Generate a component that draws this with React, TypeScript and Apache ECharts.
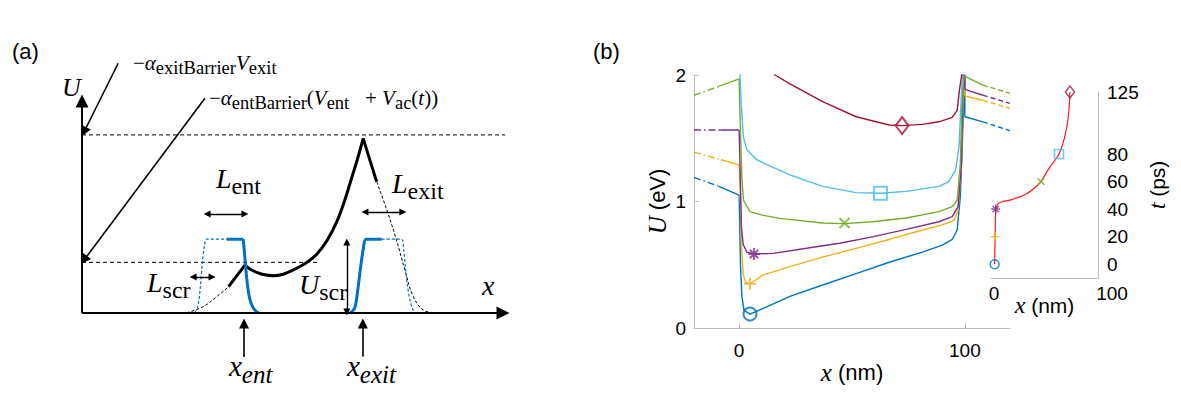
import React, { useEffect, useRef } from 'react';
import * as echarts from 'echarts';

const SERIF = '"Liberation Serif", "DejaVu Serif", serif';
const SANS = '"Liberation Sans", Arial, sans-serif';

// ---------- Panel (b): U(x) profiles at several times ----------
const C_BLUE = '#0072BD';
const C_ORANGE = '#EDB120';
const C_PURPLE = '#7E2F8E';
const C_GREEN = '#77AC30';
const C_CYAN = '#4DBEEE';
const C_RED = '#A2142F';

const blueLeftDash = [[-20, 1.19], [-9, 1.12]];
const blueLeftSolid = [[-9, 1.12], [0, 1.05]];
const blueWell = [[0, 1.05], [0.6, 0.5], [1.2, 0.25], [2.2, 0.14], [4.8, 0.11], [10.7, 0.155], [22.5, 0.25], [37, 0.34], [51.8, 0.43], [66.5, 0.52], [81.2, 0.6], [90, 0.655], [94.4, 0.7], [96.6, 0.775], [98, 1.04], [98.8, 1.43], [99.6, 1.83], [100, 2.0], [100, 1.67]];
const blueRightSolid = [[100, 1.67], [108, 1.63]];
const blueRightDash = [[108, 1.63], [120, 1.56]];

const orangeLeftDash = [[-20, 1.39], [-8, 1.33]];
const orangeLeftSolid = [[-8, 1.33], [0, 1.29]];
const orangeWell = [[0, 1.29], [0.6, 1.0], [1.2, 0.6], [1.8, 0.42], [3, 0.36], [4.8, 0.35], [10.7, 0.42], [22.5, 0.485], [37, 0.56], [51.8, 0.63], [66.5, 0.7], [81.2, 0.775], [90, 0.815], [95.2, 0.85], [97, 0.93], [98.5, 1.3], [99.2, 1.83], [99.8, 2.0], [100, 2.0], [100, 1.834]];
const orangeRightSolid = [[100, 1.834], [108, 1.8]];
const orangeRightDash = [[108, 1.8], [120, 1.737]];

const purpleLeftDash = [[-20, 1.565], [-8.4, 1.565]];
const purpleLeftSolid = [[-8.4, 1.565], [0, 1.565]];
const purpleWell = [[0, 1.565], [0.5, 1.2], [1, 0.8], [1.8, 0.66], [3.4, 0.6], [6.6, 0.585], [15, 0.59], [29.8, 0.63], [44.5, 0.67], [59, 0.72], [74, 0.78], [88.5, 0.84], [94.4, 0.88], [97, 0.96], [98.5, 1.3], [99, 1.83], [99.6, 2.0], [100, 2.0], [100, 1.887]];
const purpleRightSolid = [[100, 1.887], [108, 1.84]];
const purpleRightDash = [[108, 1.84], [120, 1.776]];

const greenLeftDash = [[-20, 1.84], [-9, 1.91]];
const greenLeftSolid = [[-9, 1.91], [0, 1.97]];
const greenWell = [[0, 1.97], [0.5, 1.6], [1.2, 1.2], [1.9, 1.01], [4.8, 0.92], [10.7, 0.89], [18, 0.867], [37, 0.83], [46.7, 0.825], [59, 0.84], [74, 0.87], [88.5, 0.92], [94.4, 0.96], [96.6, 1.01], [98, 1.3], [98.8, 1.83], [99.6, 1.99], [100, 1.99]];
const greenRightSolid = [[100, 1.99], [108, 1.92]];
const greenRightDash = [[108, 1.92], [120, 1.855]];

const cyanWell = [[0.3, 2.05], [0.8, 1.8], [1.9, 1.51], [3.4, 1.41], [7.8, 1.33], [15, 1.27], [22.5, 1.21], [37, 1.12], [51.8, 1.07], [62.6, 1.065], [74, 1.08], [88.5, 1.12], [92.9, 1.157], [95.9, 1.25], [97.4, 1.43], [98.1, 1.7], [98.8, 1.96], [99.2, 2.05]];

const redWell = [[12, 2.1], [15.9, 2.0], [22.5, 1.93], [37, 1.79], [51.8, 1.67], [66.5, 1.605], [72.2, 1.6], [81.2, 1.61], [88.5, 1.63], [94.4, 1.665], [96.6, 1.72], [97.6, 1.88], [98.5, 1.99], [99, 2.1]];

// marker positions (minimum of each profile)
const markerX = [4.8, 4.8, 6.6, 46.7, 62.6, 72.2];
const markerU = [0.11, 0.35, 0.585, 0.83, 1.065, 1.6];

// ---------- Inset: trajectory of minimum x(t) ----------
const trajectory = [[0.5, 0], [0.7, 10], [1, 20], [1.2, 30], [1.5, 38], [2.5, 42], [4, 44], [8, 45.5], [15.4, 46.5], [31, 51], [40, 56], [45, 60], [54, 70.8], [62.5, 80], [68, 92.6], [71.4, 107], [73, 125]];
const insetMarkerX = [0.5, 1, 1.5, 45, 62.5, 73];
const markerT = [0, 20, 40, 60, 80, 125];
const insetTLabels = [0, 20, 40, 60, 80, 125];

// ---------- Panel (a): schematic (abstract units) ----------
const schemTopDash = [[0, 84], [100.5, 84]];
const schemLowDash = [[0, 23.9], [56, 23.9]];
const blackLeftDash = [[24.9, 0.1], [28.8, 3.0], [32, 7.7], [34.8, 12.4]];
const blackRise = [[34.8, 12.4], [38.7, 22.6]];
const blackWell = [[38.7, 22.6], [40, 20.6], [41.5, 19.2], [43.4, 18.0], [45.4, 17.6], [47.8, 18.3], [50.2, 20.3], [53, 23.3], [55.7, 27.6], [58.2, 34.2], [60.5, 43], [62.3, 52.5], [63.9, 62.7], [65.4, 72.4], [66.8, 82.4]];
const blackFall = [[66.8, 82.4], [68.4, 72], [70, 61.9]];
const blackRightDash = [[70, 61.9], [72.4, 48.6], [74.7, 34.4], [76.7, 20.3], [78.7, 7.7], [81.1, 1.4], [84.2, 0]];
const blueLeftBumpDash = [[26.7, 0], [27.5, 3], [28.1, 12], [28.6, 24], [29.1, 32], [29.6, 34.8], [34.4, 34.8]];
const blueLeftBumpTop = [[34.4, 34.8], [38.3, 34.8]];
const blueLeftBumpFall = [[38.3, 34.8], [38.7, 26], [39.2, 15], [39.8, 7], [40.7, 2.2], [41.9, 0]];
const blueRightBumpRise = [[63.7, 0], [64.8, 2.5], [65.6, 12.4], [66.2, 22], [66.8, 30], [67.5, 34.8], [71.2, 34.8]];
const blueRightBumpDash = [[71.2, 34.8], [75.9, 34.8], [76.4, 30], [76.8, 22], [77.3, 13], [77.9, 6], [78.5, 2], [79.1, 0]];
const schemAxes = [[[0, 0], [100, 0]], [[0, 0], [0, 100]]];
const schemPointers = [[[8.6, 117.8], [0.5, 85.5]], [[29.2, 101.3], [0.5, 25]], [[38.5, -20.8], [38.5, -5]], [[66.7, -20.5], [66.7, -5]]];
const schemDouble = [[[29.7, 46.7], [38.7, 46.7]], [[67.2, 47.6], [76.2, 47.6]], [[26.4, 17], [30.9, 17]], [[62.9, 33.5], [62.9, 0.5]]];

const P_PLUS = 'path://M0,5L10,5M5,0L5,10';
const P_CROSS = 'path://M0,0L10,10M10,0L0,10';
const P_STAR = 'path://M0,5L10,5M5,0L5,10M1.5,1.5L8.5,8.5M8.5,1.5L1.5,8.5';

export default function App() {
  const ref = useRef<HTMLDivElement>(null);
  useEffect(() => {
    if (!ref.current) return;
    const chart = echarts.init(ref.current, null, { renderer: 'svg' });

    const ln = (data: number[][], color: string, width: number, type: any, xi: number, smooth: any = false, z = 2) => ({
      type: 'line', data, xAxisIndex: xi, yAxisIndex: xi, showSymbol: false, symbol: 'none', smooth,
      lineStyle: { color, width, type }, silent: true, z, clip: true,
    });

    const series: any[] = [];
    const profiles = [
      [C_BLUE, blueLeftDash, blueLeftSolid, blueWell, blueRightSolid, blueRightDash],
      [C_ORANGE, orangeLeftDash, orangeLeftSolid, orangeWell, orangeRightSolid, orangeRightDash],
      [C_PURPLE, purpleLeftDash, purpleLeftSolid, purpleWell, purpleRightSolid, purpleRightDash],
      [C_GREEN, greenLeftDash, greenLeftSolid, greenWell, greenRightSolid, greenRightDash],
    ] as any[];
    const DASHDOT = [7, 3, 1.5, 3];
    const DASH = [5, 3];
    profiles.forEach(([c, ld, ls, w, rs, rd]) => {
      series.push(ln(ld, c, 1.4, DASHDOT, 0));
      series.push(ln(ls, c, 1.4, 'solid', 0));
      series.push(ln(w, c, 1.4, 'solid', 0));
      series.push(ln(rs, c, 1.4, 'solid', 0));
      series.push(ln(rd, c, 1.4, DASH, 0));
    });
    series.push(ln(cyanWell, C_CYAN, 1.4, 'solid', 0));
    series.push(ln(redWell, C_RED, 1.4, 'solid', 0));

    const markerDefs = [
      { sym: 'circle', c: C_BLUE, s: 13, si: 9 },
      { sym: P_PLUS, c: C_ORANGE, s: 12, si: 9 },
      { sym: P_STAR, c: C_PURPLE, s: 12, si: 9 },
      { sym: P_CROSS, c: C_GREEN, s: 10, si: 7 },
      { sym: 'rect', c: C_CYAN, s: 13, si: 9 },
      { sym: 'diamond', c: C_RED, s: [13, 17], si: [9, 12] },
    ];
    series.push(ln(trajectory, '#FF1A1A', 1.2, 'solid', 1, 0.3));
    markerDefs.forEach((m, i) => {
      series.push({
        type: 'scatter', xAxisIndex: 0, yAxisIndex: 0, data: [[markerX[i], markerU[i]]],
        symbol: m.sym, symbolSize: m.s, silent: true, z: 5,
        itemStyle: { color: 'rgba(0,0,0,0)', borderColor: m.c, borderWidth: 2 },
      });
      series.push({
        type: 'scatter', xAxisIndex: 1, yAxisIndex: 1, data: [[insetMarkerX[i], markerT[i]]],
        symbol: m.sym, symbolSize: m.si, silent: true, z: 5,
        itemStyle: { color: 'rgba(0,0,0,0)', borderColor: m.c, borderWidth: 1.5 },
      });
    });

    // schematic (a)
    const SB = '#0070C0';
    series.push(ln(schemTopDash, '#000', 1, [4, 3], 2));
    series.push(ln(schemLowDash, '#000', 1, [4, 3], 2));
    series.push(ln(blackLeftDash, '#000', 1, [3, 2], 2, 0.4));
    series.push(ln(blackRise, '#000', 3, 'solid', 2));
    series.push(ln(blackWell, '#000', 3, 'solid', 2, 0.3));
    series.push(ln(blackFall, '#000', 3, 'solid', 2, 0.3));
    series.push(ln(blackRightDash, '#000', 1, [3, 2], 2, 0.4));
    series.push(ln(blueLeftBumpDash, SB, 1.2, [3, 2], 2, 0.3));
    series.push(ln(blueLeftBumpTop, SB, 3, 'solid', 2));
    series.push(ln(blueLeftBumpFall, SB, 3, 'solid', 2, 0.4));
    series.push(ln(blueRightBumpRise, SB, 3, 'solid', 2, 0.3));
    series.push(ln(blueRightBumpDash, SB, 1.2, [3, 2], 2, 0.3));

    const arrows = (data: number[][][], width: number, size: number, both: boolean) => ({
      type: 'lines', coordinateSystem: 'cartesian2d', xAxisIndex: 2, yAxisIndex: 2, silent: true, z: 4,
      symbol: both ? ['triangle', 'triangle'] : ['none', 'triangle'], symbolSize: size,
      lineStyle: { color: '#000', width, opacity: 1, curveness: 0 },
      data: data.map((c) => ({ coords: c })),
    });
    series.push(arrows(schemAxes, 2, 13, false));
    series.push(arrows(schemPointers, 1.6, 10, false));
    series.push(arrows(schemDouble, 1.4, 7, true));

    const axisGray = '#BDBDBD';
    const tickLabel = { color: '#000', fontSize: 19, fontFamily: SANS };
    const axLine = { show: true, onZero: false, lineStyle: { color: axisGray, width: 1 } };

    const subRich = (F: number, S: number, lift: number) => ({
      m: { fontFamily: SERIF, fontSize: F, fill: '#000', verticalAlign: 'bottom', padding: [0, 0, lift, 0] },
      i: { fontFamily: SERIF, fontSize: F, fontStyle: 'italic', fill: '#000', verticalAlign: 'bottom', padding: [0, 0, lift, 0] },
      s: { fontFamily: SERIF, fontSize: S, fill: '#000', verticalAlign: 'bottom' },
      si: { fontFamily: SERIF, fontSize: S, fontStyle: 'italic', fill: '#000', verticalAlign: 'bottom' },
    });
    const txt = (x: number, y: number, text: string, rich: any) => ({
      type: 'text', x, y, silent: true,
      style: { text, rich, textAlign: 'left', textVerticalAlign: 'middle', align: 'left', verticalAlign: 'middle' },
    });

    const option: any = {
      animation: false,
      grid: [
        { left: 694, top: 75, width: 316, height: 253 },
        { left: 991, top: 92, width: 107, height: 186 },
        { left: 39.9, top: 16.2, width: 505.2, height: 381.6 },
      ],
      xAxis: [
        {
          gridIndex: 0, type: 'value', min: -20, max: 120,
          axisLine: axLine,
          axisTick: { show: true, inside: true, length: 5, lineStyle: { color: axisGray }, customValues: [0, 100] },
          axisLabel: { ...tickLabel, margin: 13, customValues: [0, 100] },
          splitLine: { show: false },
          name: '{i|x} (nm)', nameLocation: 'middle', nameGap: 32, nameMoveOverlap: false,
          nameTextStyle: { fontSize: 22, fontFamily: SANS, color: '#000', rich: { i: { fontFamily: SERIF, fontStyle: 'italic', fontSize: 25, color: '#000' } } },
        },
        {
          gridIndex: 1, type: 'value', min: -3, max: 100,
          axisLine: axLine,
          axisTick: { show: false },
          axisLabel: {
            ...tickLabel, margin: 6, customValues: [0, 100],
            formatter: (v: number) => (v === 100 ? '{r|100}' : String(v)),
            rich: { r: { padding: [0, 0, 0, 28], fontSize: 19, fontFamily: SANS, color: '#000' } },
          },
          splitLine: { show: false },
          name: '{i|x} (nm)', nameLocation: 'middle', nameGap: 15, nameMoveOverlap: false,
          nameTextStyle: { fontSize: 21, fontFamily: SANS, color: '#000', rich: { i: { fontFamily: SERIF, fontStyle: 'italic', fontSize: 24, color: '#000' } } },
        },
        { gridIndex: 2, type: 'value', min: -10, max: 110, show: false },
      ],
      yAxis: [
        {
          gridIndex: 0, type: 'value', min: 0, max: 2, interval: 1,
          axisLine: axLine,
          axisTick: { show: true, inside: true, length: 5, lineStyle: { color: axisGray } },
          axisLabel: { ...tickLabel, margin: 8 },
          splitLine: { show: false },
          name: '{i|U} (eV)', nameLocation: 'middle', nameGap: 24, nameMoveOverlap: false,
          nameTextStyle: { fontSize: 22, fontFamily: SANS, color: '#000', rich: { i: { fontFamily: SERIF, fontStyle: 'italic', fontSize: 25, color: '#000' } } },
        },
        {
          gridIndex: 1, type: 'value', min: -10, max: 125, position: 'right',
          axisLine: axLine,
          axisTick: { show: false },
          axisLabel: { ...tickLabel, margin: 9, customValues: insetTLabels },
          splitLine: { show: false },
          name: '{i|t} (ps)', nameLocation: 'middle', nameGap: 47, nameMoveOverlap: false,
          nameTextStyle: { fontSize: 21, fontFamily: SANS, color: '#000', rich: { i: { fontFamily: SERIF, fontStyle: 'italic', fontSize: 24, color: '#000' } } },
        },
        { gridIndex: 2, type: 'value', min: -40, max: 140, show: false },
      ],
      series,
      graphic: [
        { type: 'text', x: 12, y: 51, silent: true, style: { text: '(a)', font: `22px ${SANS}`, fill: '#000', textVerticalAlign: 'middle', verticalAlign: 'middle' } },
        { type: 'text', x: 593, y: 51, silent: true, style: { text: '(b)', font: `22px ${SANS}`, fill: '#000', textVerticalAlign: 'middle', verticalAlign: 'middle' } },
        txt(133, 65, '{m|−}{i|α}{s|exitBarrier}{i|V}{s|exit}', subRich(21, 18.5, 4)),
        txt(209, 100, '{m|−}{i|α}{s|entBarrier}{m|(}{i|V}{s|ent}{m|   + }{i|V}{s|ac}{m|(}{i|t}{m|))}', subRich(21, 18.5, 4)),
        txt(62, 87, '{i|U}', subRich(26, 14, 0)),
        txt(216, 181, '{i|L}{s|ent}', subRich(28, 24, 6)),
        txt(392, 186, '{i|L}{s|exit}', subRich(28, 24, 6)),
        txt(147, 285, '{i|L}{s|scr}', subRich(28, 24, 6)),
        txt(299, 287, '{i|U}{s|scr}', subRich(28, 24, 6)),
        txt(482, 285, '{i|x}', subRich(28, 14, 0)),
        txt(229, 369, '{i|x}{si|ent}', subRich(29, 25, 6)),
        txt(347, 369, '{i|x}{si|exit}', subRich(29, 25, 6)),
      ],
    };
    chart.setOption(option);
    return () => chart.dispose();
  }, []);
  return <div ref={ref} style={{ position: 'fixed', left: 0, top: 0, width: 1181, height: 414, background: '#fff' }} />;
}
